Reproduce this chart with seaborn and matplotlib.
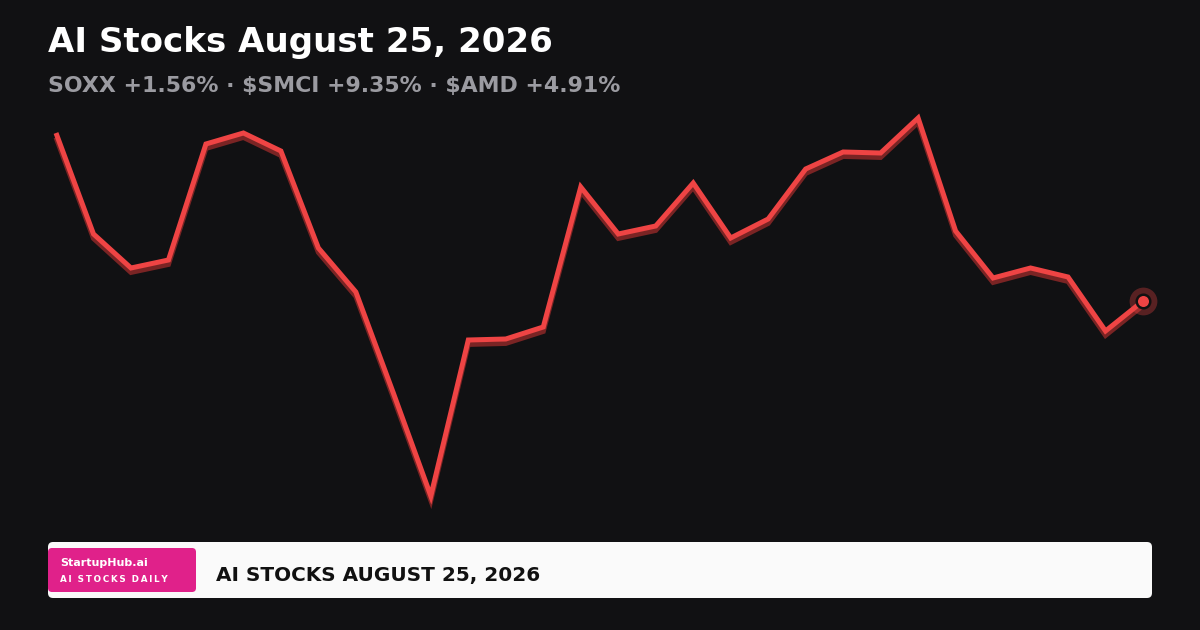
import matplotlib
matplotlib.use("Agg")
import matplotlib.pyplot as plt
import matplotlib.patheffects as pe
from matplotlib.patches import FancyBboxPatch
import numpy as np
import pandas as pd
import seaborn as sns

# ---- data ----
day_index = list(range(30))
price = [49.7, 39.6, 36.2, 37.0, 48.6, 49.7, 47.9, 38.2, 33.8, 23.7,
         13.4, 29.0, 29.1, 30.3, 44.3, 39.6, 40.4, 44.7, 39.2, 41.1,
         46.1, 47.8, 47.7, 51.2, 39.9, 35.2, 36.2, 35.3, 29.9, 32.9]
title = "AI Stocks August 25, 2026"
subtitle = "SOXX +1.56% · $SMCI +9.35% · $AMD +4.91%"
brand = "StartupHub.ai"
brand_sub = "AI STOCKS DAILY"
footer = "AI STOCKS AUGUST 25, 2026"

BG = "#111113"
RED = "#ef4444"
SHADOW = "#7a2424"

sns.set_theme(style="dark")
plt.rcParams["font.family"] = ["DejaVu Sans"]
plt.rcParams["text.parse_math"] = False

df = pd.DataFrame({"day": day_index, "price": price})

fig = plt.figure(figsize=(12, 6.3), dpi=100)
fig.patch.set_facecolor(BG)
ax = fig.add_axes([0, 0, 1, 1])
ax.set_facecolor(BG)

sns.lineplot(data=df, x="day", y="price", ax=ax, color=RED, linewidth=3.6,
             solid_joinstyle="miter", solid_capstyle="butt", zorder=3)
ln = ax.lines[-1]
ln.set_path_effects([
    pe.SimpleLineShadow(offset=(0, -3.2), shadow_color=SHADOW, alpha=1.0),
    pe.Normal(),
])

# end marker
ax.scatter([day_index[-1]], [price[-1]], s=400, color=RED, alpha=0.32,
           linewidths=0, zorder=4)
ax.scatter([day_index[-1]], [price[-1]], s=95, color=RED, edgecolors="#111111",
           linewidths=1.8, zorder=5)

step = (1143 - 56) / 29
ax.set_xlim(-56 / step, 29 + (1200 - 1143) / step)
ax.set_ylim(0, 63)
ax.axis("off")

# overlay in pixel coords for decorations
ov = fig.add_axes([0, 0, 1, 1])
ov.set_xlim(0, 1200)
ov.set_ylim(630, 0)
ov.axis("off")
ov.patch.set_alpha(0)

ov.text(48, 52, title, color="white", fontsize=24.5, fontweight="bold",
        va="baseline", ha="left")
ov.text(48, 92, subtitle, color="#9b9ba1", fontsize=15.8, fontweight="bold",
        va="baseline", ha="left")

ov.add_patch(FancyBboxPatch((48, 542), 1104, 56,
                            boxstyle="round,pad=0,rounding_size=5",
                            facecolor="#fafafa", edgecolor="none", zorder=2))
ov.add_patch(FancyBboxPatch((48, 548), 148, 44,
                            boxstyle="round,pad=0,rounding_size=4",
                            facecolor="#e0218a", edgecolor="none", zorder=3))
ov.text(60, 566.5, brand, color="white", fontsize=8, fontweight="bold",
        va="baseline", ha="left", zorder=4)
ov.text(60, 582, "\u2009".join(brand_sub).replace("\u2009 \u2009", "  "),
        color="white", fontsize=6.3, fontweight="bold",
        va="baseline", ha="left", zorder=4)
ov.text(216, 580.5, footer, color="#111111", fontsize=14.4, fontweight="bold",
        va="baseline", ha="left", zorder=4)

fig.savefig("out.png", dpi=100, facecolor=BG)
